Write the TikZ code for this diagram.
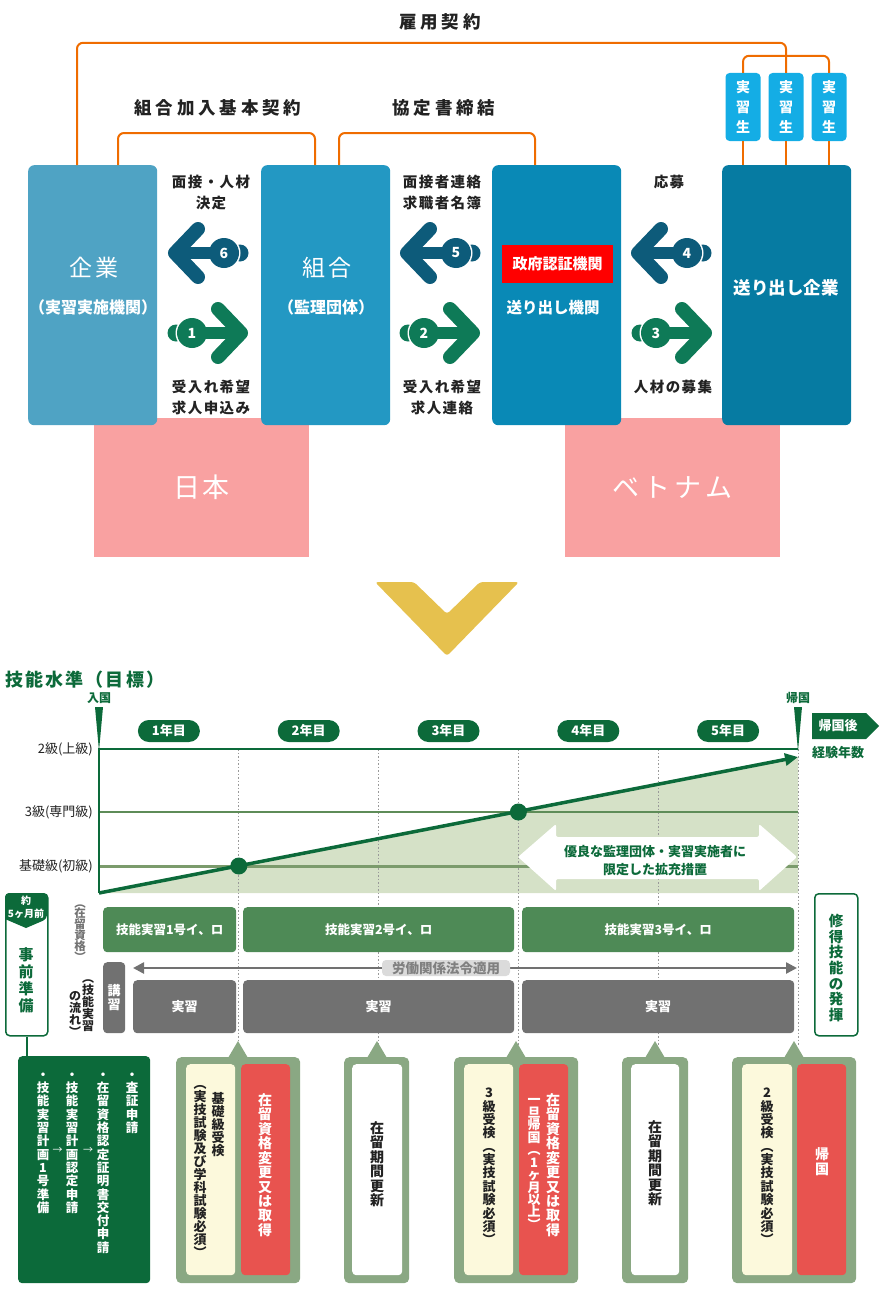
\documentclass[tikz,border=0pt]{standalone}
\usepackage{fontspec}
\setmainfont{Noto Sans CJK JP}
\usetikzlibrary{arrows.meta,calc}
\newcommand\fsz[1]{\fontsize{#1}{#1}\selectfont}
\makeatletter
\newcommand\vstk[2][1.05]{\vbox{\baselineskip=#1em\lineskiplimit=-\maxdimen\lineskip=0pt\@tfor\vs@c:=#2\do{\hbox to 1em{\vrule width0pt height.88em depth.12em\hss\vs@c\hss}}}}
\makeatother
\definecolor{kigyo}{HTML}{4FA3C4}
\definecolor{kumiai}{HTML}{2398C3}
\definecolor{okuri}{HTML}{0989B6}
\definecolor{okurik}{HTML}{067BA2}
\definecolor{jisshu}{HTML}{14ADE5}
\definecolor{orng}{HTML}{EF6C00}
\definecolor{pinkc}{HTML}{F9A1A1}
\definecolor{arrL}{HTML}{0D5B7A}
\definecolor{arrR}{HTML}{0E7A57}
\definecolor{goldc}{HTML}{E6C14E}
\definecolor{dg}{HTML}{0C6A3A}
\definecolor{midg}{HTML}{4E8A56}
\definecolor{lineg}{HTML}{5E8C58}
\definecolor{lineo}{HTML}{7B9B6C}
\definecolor{lg}{HTML}{D5E1C7}
\definecolor{sage}{HTML}{8AA883}
\definecolor{cream}{HTML}{FCF9DC}
\definecolor{redb}{HTML}{E8534F}
\definecolor{grayb}{HTML}{717171}
\definecolor{txt}{HTML}{222222}
\newcommand\bigarrow[4]{%
 \begin{scope}[shift={#1}, xscale=#2]
  \fill[#3] (30,0) circle (8.5);
  \fill[white] (14,0) circle (16.5);
  \draw[#3, line width=14, line cap=round, line join=round] (-12,-24) -- (-35,0) -- (-12,24);
  \draw[#3, line width=12] (-35,0) -- (14,0);
  \fill[#3] (14,0) circle (15);
  \node[text=white, font=\bfseries\fsz{14}, inner sep=0] at (14,0) {#4};
 \end{scope}}
\begin{document}
\begin{tikzpicture}[x=1pt,y=-1pt,
  bluebox/.style={rounded corners=6, inner sep=0, minimum width=129, minimum height=260, anchor=north west},
  pinkbox/.style={fill=pinkc, minimum width=215, minimum height=139, inner sep=0, text=white, font=\fsz{27}},
  toplbl/.style={inner sep=0, text=txt, font=\bfseries\fsz{17.5}\addfontfeature{LetterSpace=22}},
  lbl/.style={inner sep=0, text=txt, font=\bfseries\fsz{14.5}\addfontfeature{LetterSpace=10}},
  wt/.style={inner sep=0, text=white},
  jbox/.style={fill=jisshu, rounded corners=4, minimum width=35, minimum height=68, inner sep=0, text=white, font=\bfseries\fsz{14}},
  oline/.style={orng, line width=2, rounded corners=6},
  pill/.style={fill=dg, rounded corners=11, minimum width=62, minimum height=22, inner sep=0, text=white, font=\bfseries\fsz{13}},
  glbl/.style={inner sep=0, text=dg, font=\bfseries\fsz{12}},
  lvl/.style={inner sep=0, text=txt, font=\fsz{13}, anchor=east},
  bar/.style={fill=midg, rounded corners=4, inner sep=0, anchor=north west, text=white, font=\bfseries\fsz{12.5}},
  gbar/.style={fill=grayb, rounded corners=4, inner sep=0, anchor=north west, text=white, font=\bfseries\fsz{13}},
  outer/.style={fill=sage, rounded corners=5, inner sep=0, anchor=north west, minimum height=226},
  inner/.style={rounded corners=4, inner sep=0, anchor=north west, minimum height=211},
  vt/.style={inner sep=0, anchor=north, text=txt, font=\bfseries\fsz{13}},
  vw/.style={inner sep=0, anchor=north, text=white, font=\bfseries\fsz{14}},
  dotl/.style={draw=black!40, line width=1, dash pattern=on 1.5pt off 2pt}
]
\useasboundingbox (0,0) rectangle (880,1290);
% ---------- top: pink regions ----------
\node[pinkbox] (japan) at (201.5,487.5) {日\hspace{3pt}本};
\node[pinkbox] (vn) at (672.5,487.5) {ベ\hspace{4pt}ト\hspace{4pt}ナ\hspace{4pt}ム};
% ---------- blue boxes ----------
\node[bluebox, fill=kigyo] (kigyo) at (28,165) {};
\node[bluebox, fill=kumiai] (kumiai) at (261,165) {};
\node[bluebox, fill=okuri] (okuri) at (492,165) {};
\node[bluebox, fill=okurik] (okurik) at (722,165) {};
\node[wt, font=\fsz{23}\addfontfeature{LetterSpace=10}] (kigyoT) at (94,268) {企業};
\node[wt, font=\bfseries\fsz{16}] (kigyoS) at (93,307) {（実習実施機関）};
\node[wt, font=\fsz{23}\addfontfeature{LetterSpace=10}] (kumiaiT) at (327,268) {組合};
\node[wt, font=\bfseries\fsz{16}] (kumiaiS) at (326,307) {（監理団体）};
\node[fill=red, minimum width=111, minimum height=38, inner sep=0, text=white, font=\bfseries\fsz{15}] (seifu) at (557.5,264) {政府認証機関};
\node[wt, font=\bfseries\fsz{15.5}] (okuriT) at (553,308) {送り出し機関};
\node[wt, font=\bfseries\fsz{17.5}] (okurikT) at (786,288) {送り出し企業};
% ---------- trainees ----------
\node[jbox] (j1) at (743,107) {\vstk[1.45]{実習生}};
\node[jbox] (j2) at (786,107) {\vstk[1.45]{実習生}};
\node[jbox] (j3) at (829,107) {\vstk[1.45]{実習生}};
% ---------- orange contract lines ----------
\draw[oline] ([xshift=49pt]kigyo.north west) |- ([yshift=30pt]j2.north) -- (j2.north);
\draw[oline] (j1.north) |- ([yshift=17pt]j3.north) -- (j3.north);
\draw[orng, line width=2] (j1.south) -- (j1.south |- okurik.north);
\draw[orng, line width=2] (j2.south) -- (j2.south |- okurik.north);
\draw[orng, line width=2] (j3.south) -- (j3.south |- okurik.north);
\draw[oline] ([xshift=90pt]kigyo.north west) |- ([xshift=54pt,yshift=32pt]kumiai.north west) -- ([xshift=54pt]kumiai.north west);
\draw[oline] ([xshift=78pt]kumiai.north west) |- ([xshift=43pt,yshift=32pt]okuri.north west) -- ([xshift=43pt]okuri.north west);
\node[toplbl] (koyo) at (440,22) {雇用契約};
\node[toplbl] (kihon) at (218,108) {組合加入基本契約};
\node[toplbl] (kyotei) at (444,108) {協定書締結};
% ---------- flow labels ----------
\node[lbl] (l6a) at (211,182) {面接・人材};
\node[lbl] (l6b) at (211,203) {決定};
\node[lbl] (l1a) at (211,387) {受入れ希望};
\node[lbl] (l1b) at (211,408) {求人申込み};
\node[lbl] (l5a) at (442,182) {面接者連絡};
\node[lbl] (l5b) at (442,203) {求職者名簿};
\node[lbl] (l2a) at (442,387) {受入れ希望};
\node[lbl] (l2b) at (442,408) {求人連絡};
\node[lbl] (l4a) at (669,182) {応募};
\node[lbl] (l3a) at (673,387) {人材の募集};
% ---------- big arrows ----------
\bigarrow{(210,253)}{1}{arrL}{6}
\bigarrow{(206,333)}{-1}{arrR}{1}
\bigarrow{(442,253)}{1}{arrL}{5}
\bigarrow{(438,333)}{-1}{arrR}{2}
\bigarrow{(673,253)}{1}{arrL}{4}
\bigarrow{(670,333)}{-1}{arrR}{3}
% ---------- chevron ----------
\fill[goldc, rounded corners=3] (375,582) -- (414,582) -- (447,614) -- (480,582) -- (519,582) -- (447,656) -- cycle;
% ---------- chart ----------
\node[inner sep=0, anchor=west, text=dg, font=\bfseries\fsz{18}\addfontfeature{LetterSpace=12}] (title) at (5,680) {技能水準（目標）};
\fill[lg] (99,893) -- (797,757) -- (798,757) -- (798,893) -- cycle;
\foreach \x in {238.8,378.6,518.4,658.2,798} \draw[dotl] (\x,749) -- (\x,1045);
\draw[lineg, line width=2] (99,812) -- (798,812);
\draw[lineo, line width=3] (99,866) -- (798,866);
\draw[dg, line width=2] (99,893) -- (99,749) -- (798,749);
\draw[dg, line width=3.5, -{Triangle[length=13pt,width=12pt]}] (99,893) -- (798,757);
\fill[dg] (238.8,866) circle (8.5);
\fill[dg] (518.4,812) circle (8.5);
\fill[white, rounded corners=2] (518,857) -- (556,824) -- (556,837) -- (759,837) -- (759,824) -- (797,857) -- (759,891) -- (759,879) -- (556,879) -- (556,891) -- cycle;
\node[inner sep=0, text=dg, font=\bfseries\fsz{13}] (yuryo1) at (655,852) {優良な監理団体・実習実施者に};
\node[inner sep=0, text=dg, font=\bfseries\fsz{13}] (yuryo2) at (655,870) {限定した拡充措置};
\node[lvl] (lv2) at (93,749) {2級(上級)};
\node[lvl] (lv3) at (93,812) {3級(専門級)};
\node[lvl] (lvb) at (93,866) {基礎級(初級)};
% markers
\fill[dg] (95,707) -- (103,707) -- (99,751) -- cycle;
\fill[dg] (794,707) -- (802,707) -- (798,751) -- cycle;
\node[glbl] (nyukoku) at (99,698) {入国};
\node[glbl] (kikoku) at (798,698) {帰国};
\node[pill] (y1) at (168.9,731) {1年目};
\node[pill] (y2) at (308.7,731) {2年目};
\node[pill] (y3) at (448.5,731) {3年目};
\node[pill] (y4) at (588.3,731) {4年目};
\node[pill] (y5) at (728.1,731) {5年目};
\fill[dg] (812,713) -- (866,713) -- (879,726) -- (866,739) -- (812,739) -- cycle;
\node[inner sep=0, text=white, font=\bfseries\fsz{13}] (kikokugo) at (838,726) {帰国後};
\node[inner sep=0, text=dg, font=\bfseries\fsz{13}] (keiken) at (838,753) {経験年数};
% ---------- status bars ----------
\node[inner sep=0, text=black!55, font=\bfseries\fsz{11.5}] (zairyu) at (80,930) {\vstk[0.95]{︵在留資格︶}};
\node[inner sep=0, anchor=north, text=txt, font=\bfseries\fsz{12}] (nagare1) at (88,972) {\vstk[1.0]{︵技能実習}};
\node[inner sep=0, anchor=south, text=txt, font=\bfseries\fsz{12}] (nagare2) at (75,1038) {\vstk[1.0]{の流れ︶}};
\node[bar, minimum width=133, minimum height=45] (b1) at (103,907) {技能実習1号イ、ロ};
\node[bar, minimum width=271, minimum height=45] (b2) at (243,907) {技能実習2号イ、ロ};
\node[bar, minimum width=272, minimum height=45] (b3) at (522,907) {技能実習3号イ、ロ};
\node[gbar, minimum width=22, minimum height=71] (koshu) at (103,962) {\vstk[1.1]{講習}};
\node[gbar, minimum width=103, minimum height=53] (g1) at (133,980) {実習};
\node[gbar, minimum width=271, minimum height=53] (g2) at (243,980) {実習};
\node[gbar, minimum width=272, minimum height=53] (g3) at (522,980) {実習};
\coordinate (rl) at (797,968);
\draw[grayb, line width=2.5, {Triangle[length=11pt,width=11pt]}-{Triangle[length=11pt,width=11pt]}] (g1.north west |- rl) -- (rl);
\node[fill=black!14, rounded corners=4, minimum width=128, minimum height=16, inner sep=0, text=black!50, font=\bfseries\fsz{13.5}] (rodo) at (446,968) {労働関係法令適用};
% left prep box
\node[draw=dg, line width=1.5, fill=white, rounded corners=4, minimum width=42, minimum height=142, inner sep=0, anchor=north west] (prep) at (5,893) {};
\fill[dg, rounded corners=4] (5,919) -- (5,893) -- (47,893) -- (47,919) [sharp corners] -- (26,928) -- cycle;
\node[wt, font=\bfseries\fsz{10}] (yaku) at (26,901) {約};
\node[wt, font=\bfseries\fsz{10}] (gokagetsu) at (26,914) {5ヶ月前};
\node[inner sep=0, text=dg, font=\bfseries\fsz{15}] (jizen) at (26,980) {\vstk[1.13]{事前準備}};
% right box
\node[draw=dg, line width=1.5, fill=white, rounded corners=4, minimum width=43, minimum height=142, inner sep=0, anchor=north west] (hakki) at (814,893) {};
\node[inner sep=0, text=dg, font=\bfseries\fsz{14.5}] (hakkiT) at (836,968) {\vstk[1.08]{修得技能の発揮}};
% ---------- preparation detail box ----------
\node[fill=dg, rounded corners=4, minimum width=132, minimum height=227, inner sep=0, anchor=north west] (prepd) at (18,1056) {};
\draw[dg, line width=1.5] (prep.south) -- (prep.south |- prepd.north);
\node[vw, font=\bfseries\fsz{12.5}] (p1) at (132,1068) {\vstk[1.065]{・査証申請}};
\node[vw, font=\bfseries\fsz{12.5}] (p2) at (103,1068) {\vstk[1.065]{・在留資格認定証明書交付申請}};
\node[vw, font=\bfseries\fsz{12.5}] (p3) at (72,1068) {\vstk[1.065]{・技能実習計画認定申請}};
\node[vw, font=\bfseries\fsz{12.5}] (p4) at (43,1068) {\vstk[1.065]{・技能実習計画1号準備}};
\node[wt, font=\fsz{10}] (ar1) at (57.5,1150) {→};
\node[wt, font=\fsz{10}] (ar2) at (88,1150) {→};
% ---------- callouts ----------
% 1
\fill[sage] (228,1058) -- (238,1041) -- (248,1058) -- cycle;
\node[outer, minimum width=124] (c1) at (176,1057) {};
\node[inner, fill=cream, minimum width=49] (c1a) at (186,1064) {};
\node[inner, fill=redb, minimum width=49] (c1b) at (241,1064) {};
\node[vt] (c1t1) at (218,1092) {\vstk[1.0]{基礎級受検}};
\node[vt] (c1t2) at (200,1077) {\vstk[1.0]{︵実技試験及び学科試験必須︶}};
\node[vw] (c1t3) at (265,1093) {\vstk[1.03]{在留資格変更又は取得}};
% 2
\fill[sage] (367,1058) -- (377,1041) -- (387,1058) -- cycle;
\node[outer, minimum width=65] (c2) at (344,1057) {};
\node[inner, fill=white, minimum width=50] (c2a) at (352,1064) {};
\node[vt, font=\bfseries\fsz{14}] (c2t) at (377,1121) {\vstk[1.03]{在留期間更新}};
% 3
\fill[sage] (506,1058) -- (516,1041) -- (526,1058) -- cycle;
\node[outer, minimum width=124] (c3) at (454,1057) {};
\node[inner, fill=cream, minimum width=49] (c3a) at (464,1064) {};
\node[inner, fill=redb, minimum width=49] (c3b) at (519,1064) {};
\node[vt] (c3t1) at (489,1086) {\vstk[1.03]{3級受検︵実技試験必須︶}};
\node[vw] (c3t2) at (553,1093) {\vstk[1.03]{在留資格変更又は取得}};
\node[vw, font=\bfseries\fsz{13}] (c3t3) at (534,1093) {\vstk[0.96]{一旦帰国︵1ヶ月以上︶}};
% 4
\fill[sage] (645,1058) -- (655,1041) -- (665,1058) -- cycle;
\node[outer, minimum width=66] (c4) at (622,1057) {};
\node[inner, fill=white, minimum width=48] (c4a) at (631,1064) {};
\node[vt, font=\bfseries\fsz{14}] (c4t) at (655,1120) {\vstk[1.03]{在留期間更新}};
% 5
\fill[sage] (784,1058) -- (794,1041) -- (804,1058) -- cycle;
\node[outer, minimum width=124] (c5) at (732,1057) {};
\node[inner, fill=cream, minimum width=50] (c5a) at (742,1064) {};
\node[inner, fill=redb, minimum width=49] (c5b) at (797,1064) {};
\node[vt] (c5t1) at (767,1086) {\vstk[1.03]{2級受検︵実技試験必須︶}};
\node[vw, font=\bfseries\fsz{14}] (c5t2) at (822,1147) {\vstk[1.1]{帰国}};
\end{tikzpicture}
\end{document}
